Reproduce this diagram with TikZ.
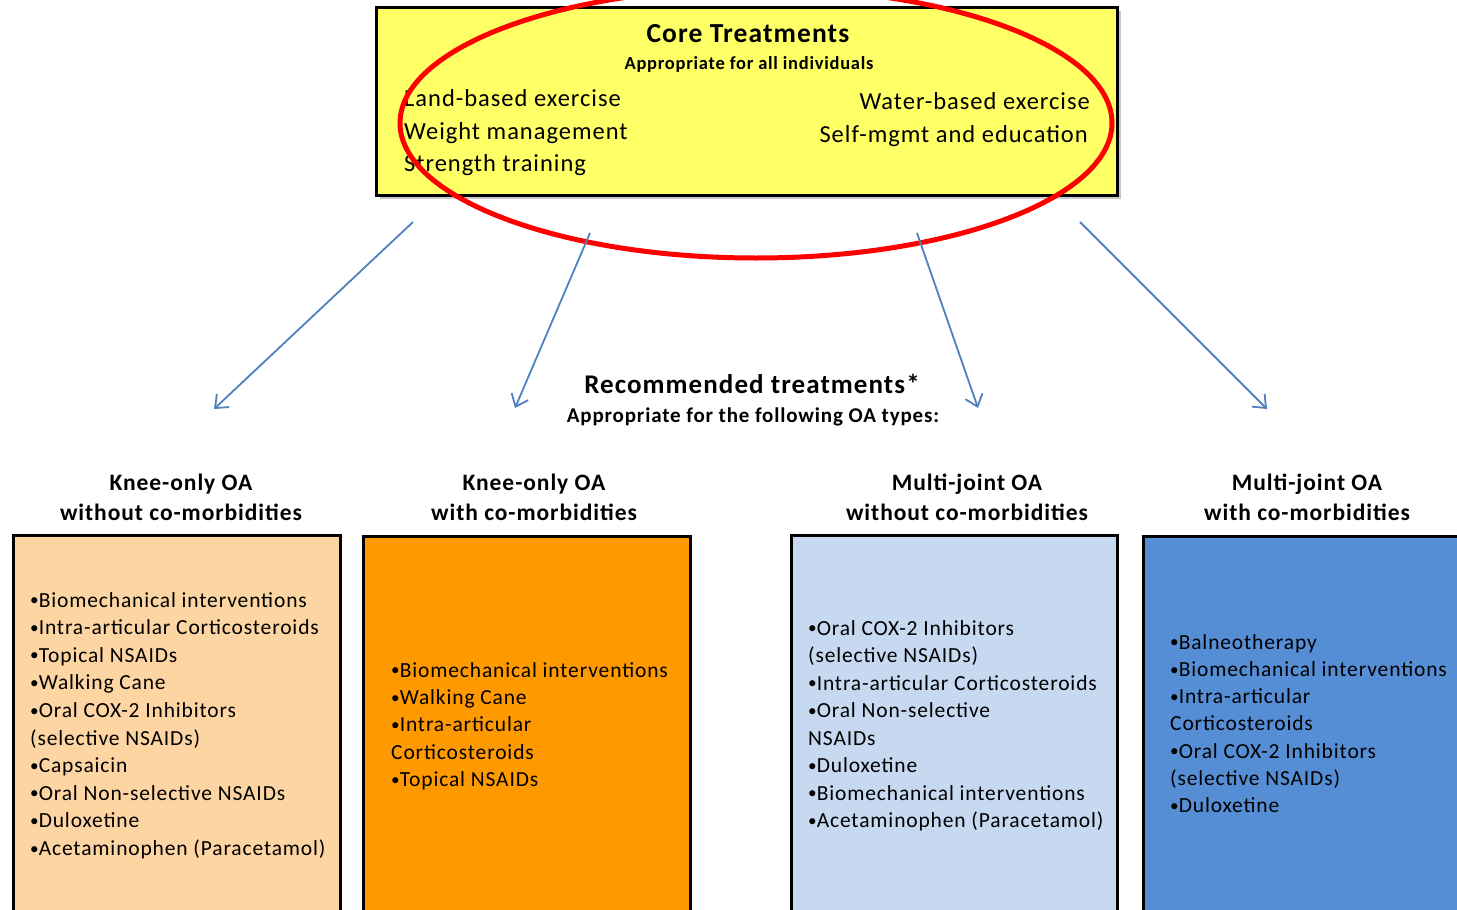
\documentclass[tikz,border=0pt]{standalone}
\usepackage{fontspec}
\setmainfont{Carlito}[LetterSpace=4]
\usetikzlibrary{arrows.meta}
\definecolor{coreyel}{HTML}{FFFF66}
\definecolor{kneeA}{HTML}{FCD5A2}
\definecolor{kneeB}{HTML}{FF9900}
\definecolor{multA}{HTML}{C6D9F1}
\definecolor{multB}{HTML}{558ED5}
\definecolor{arrowblue}{HTML}{4F81BD}
\definecolor{ringred}{HTML}{FF0000}
\definecolor{shadowgray}{HTML}{C8C8C8}
\newcommand{\bul}{\raisebox{0.12ex}{\scalebox{0.8}{•}}}
\begin{document}
\begin{tikzpicture}[x=1pt,y=-1pt,
  panel/.style={draw=black,line width=3pt,anchor=north west,inner sep=0pt,outer sep=0pt},
  item/.style={anchor=base west,inner sep=0pt,font=\fontsize{21.5}{26}\selectfont},
  head/.style={anchor=base,inner sep=0pt,font=\bfseries\fontsize{23.5}{28}\selectfont},
  coreitem/.style={inner sep=0pt,font=\fontsize{24.5}{29}\selectfont},
  link/.style={draw=arrowblue,line width=1.8pt,-{Straight Barb[length=11pt,width=18pt,line width=1.8pt]}}]
\clip (0,0) rectangle (1457,910);
\fill[white] (0,0) rectangle (1457,910);

% core box with a faint shadow
\fill[shadowgray] (380,11) rectangle (1121,199);
\node[panel,fill=coreyel,minimum width=741pt,minimum height=188pt] (core) at (376,7) {};
\node[anchor=base,inner sep=0pt,font=\bfseries\fontsize{27.5}{32}\selectfont] (coretitle) at (748,42) {Core Treatments};
\node[anchor=base,inner sep=0pt,font=\bfseries\fontsize{18.5}{22}\selectfont] (coresub) at (749,69) {Appropriate for all individuals};
\node[coreitem,anchor=base west] (c1) at (404,106) {Land-based exercise};
\node[coreitem,anchor=base west] (c2) at (404,139) {Weight management};
\node[coreitem,anchor=base west] (c3) at (404,171) {Strength training};
\node[coreitem,anchor=base east] (c4) at (1090,109) {Water-based exercise};
\node[coreitem,anchor=base east] (c5) at (1088,142) {Self-mgmt and education};

% red ring
\draw[ringred,line width=5pt] (756,123) ellipse [x radius=356pt,y radius=135pt];

% arrows
\coordinate (a1s) at (413,222); \coordinate (a1e) at (214,409);
\coordinate (a2s) at (590,233); \coordinate (a2e) at (515,408);
\coordinate (a3s) at (917,233); \coordinate (a3e) at (978,408);
\coordinate (a4s) at (1080,222); \coordinate (a4e) at (1267,409);
\draw[link] (a1s) -- (a1e);
\draw[link] (a2s) -- (a2e);
\draw[link] (a3s) -- (a3e);
\draw[link] (a4s) -- (a4e);

% middle titles
\node[anchor=base,inner sep=0pt,font=\bfseries\fontsize{27}{32}\selectfont] (rec) at (752,393) {Recommended treatments*};
\node[anchor=base,inner sep=0pt,font=\bfseries\fontsize{21}{25}\selectfont] (recsub) at (753,422) {Appropriate for the following OA types:};

% headings
\node[head] (h1a) at (181,490) {Knee-only OA};
\node[head] (h1b) at (181,520) {without co-morbidities};
\node[head] (h2a) at (534,490) {Knee-only OA};
\node[head] (h2b) at (534,520) {with co-morbidities};
\node[head] (h3a) at (967,490) {Multi-joint OA};
\node[head] (h3b) at (967,520) {without co-morbidities};
\node[head] (h4a) at (1307,490) {Multi-joint OA};
\node[head] (h4b) at (1307,520) {with co-morbidities};

% panels
\node[panel,fill=kneeA,minimum width=327pt,minimum height=420pt] (p1) at (13,535) {};
\node[panel,fill=kneeB,minimum width=327pt,minimum height=420pt] (p2) at (363,536) {};
\node[panel,fill=multA,minimum width=326pt,minimum height=420pt] (p3) at (791,535) {};
\node[panel,fill=multB,minimum width=360pt,minimum height=420pt] (p4) at (1143,536) {};

\foreach \t [count=\i] in {{\bul Biomechanical interventions},{\bul Intra-articular Corticosteroids},{\bul Topical NSAIDs},{\bul Walking Cane},{\bul Oral COX-2 Inhibitors},{(selective NSAIDs)},{\bul Capsaicin},{\bul Oral Non-selective NSAIDs},{\bul Duloxetine},{\bul Acetaminophen (Paracetamol)}}
  \node[item,name=t1-\i] at (30,{607+27.6*(\i-1)}) {\t};
\foreach \t [count=\i] in {{\bul Biomechanical interventions},{\bul Walking Cane},{\bul Intra-articular},{Corticosteroids},{\bul Topical NSAIDs}}
  \node[item,name=t2-\i] at (391,{677+27.4*(\i-1)}) {\t};
\foreach \t [count=\i] in {{\bul Oral COX-2 Inhibitors},{(selective NSAIDs)},{\bul Intra-articular Corticosteroids},{\bul Oral Non-selective},{NSAIDs},{\bul Duloxetine},{\bul Biomechanical interventions},{\bul Acetaminophen (Paracetamol)}}
  \node[item,name=t3-\i] at (808,{635+27.5*(\i-1)}) {\t};
\foreach \t [count=\i] in {{\bul Balneotherapy},{\bul Biomechanical interventions},{\bul Intra-articular},{Corticosteroids},{\bul Oral COX-2 Inhibitors},{(selective NSAIDs)},{\bul Duloxetine}}
  \node[item,name=t4-\i] at (1170,{649+27.3*(\i-1)}) {\t};
\end{tikzpicture}
\end{document}
